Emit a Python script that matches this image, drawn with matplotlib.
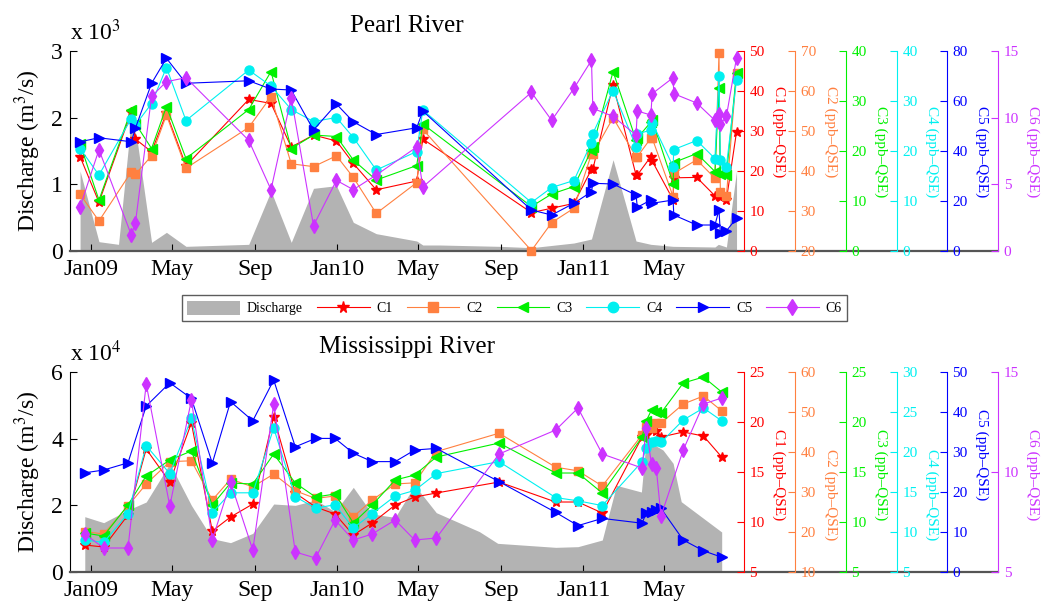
import numpy as np
import pandas as pd
import matplotlib
matplotlib.use("Agg")
import matplotlib.pyplot as plt
from matplotlib.patches import Patch
from matplotlib.lines import Line2D

plt.rcParams["font.family"] = ["Liberation Serif", "DejaVu Serif"]
plt.rcParams["mathtext.fontset"] = "stix"

# ---------------- Pearl River ----------------
pearl_dates = ["2008-12-16", "2009-01-13", "2009-03-02", "2009-03-08", "2009-04-01",
               "2009-04-23", "2009-05-22", "2009-08-23", "2009-09-25", "2009-10-25",
               "2009-11-27", "2009-12-31", "2010-01-25", "2010-02-28", "2010-04-29",
               "2010-05-08", "2010-10-16", "2010-11-15", "2010-12-18", "2011-01-13",
               "2011-01-15", "2011-02-14", "2011-03-20", "2011-03-22", "2011-04-11",
               "2011-04-13", "2011-05-14", "2011-05-15", "2011-06-18", "2011-07-15",
               "2011-07-21", "2011-07-23", "2011-08-01", "2011-08-16"]
pearl_c1 = [23.6, 12.2, 34.8, 28.0, 24.8, 34.5, 21.3, 37.9, 36.9, 26.0, 29.0, 27.5,
            21.9, 15.3, 17.5, 28.0, 9.6, 10.7, 11.9, 20.4, 20.4, 41.6, 19.0, 19.0,
            23.6, 22.5, 12.8, 18.3, 18.4, 13.8, 13.8, 13.6, 12.8, 29.8]
pearl_c2 = [34.2, 27.5, 39.8, 39.2, 43.8, 54.0, 40.7, 50.9, 58.6, 41.8, 41.1, 43.8,
            38.4, 29.4, 37.1, 50.4, 20.1, 27.1, 30.7, 44.3, 44.3, 53.3, 43.6, 43.6,
            48.2, 48.2, 33.6, 39.4, 42.8, 38.2, 69.4, 34.8, 33.8, 64.6]
pearl_c3 = [21.4, 10.2, 28.3, 25.5, 20.5, 28.9, 18.5, 28.3, 35.9, 20.5, 23.2, 22.9,
            18.2, 14.2, 17.1, 25.4, 8.9, 11.4, 12.9, 20.2, 20.9, 35.9, 22.2, 22.6,
            25.8, 26.2, 13.5, 17.7, 19.5, 15.9, 32.7, 15.5, 15.2, 35.7]
pearl_c4 = [20.5, 15.2, 26.5, 25.2, 29.5, 36.7, 26.1, 36.2, 33.0, 28.3, 25.9, 26.7,
            22.7, 16.2, 19.9, 28.2, 9.7, 12.7, 14.1, 21.7, 23.5, 32.1, 20.9, 23.4,
            24.2, 25.7, 16.9, 20.3, 22.1, 18.5, 35.0, 18.2, 16.9, 34.3]
pearl_c5 = [43.7, 45.3, 43.7, 49.1, 67.1, 77.1, 67.1, 68.1, 64.8, 64.4, 48.4, 58.8,
            51.7, 46.6, 49.3, 56.0, 16.4, 14.4, 19.1, 23.7, 27.1, 26.8, 22.4, 17.5,
            20.4, 19.1, 20.4, 14.4, 10.4, 10.4, 16.4, 7.1, 8.1, 13.1]
pearl_c6 = [3.3, 7.6, 1.2, 2.1, 11.6, 12.7, 13.0, 8.3, 4.6, 11.5, 1.9, 5.3,
            4.6, 5.7, 7.8, 4.8, 11.9, 9.8, 12.2, 14.3, 10.7, 10.1, 8.7, 10.5,
            10.2, 11.8, 13.0, 11.8, 11.1, 9.8, 10.3, 9.5, 10.1, 14.5]
pearl_q_dates = ["2008-12-16", "2009-01-13", "2009-02-11", "2009-03-02", "2009-03-10",
                 "2009-04-01", "2009-04-23", "2009-05-22", "2009-08-23", "2009-09-25",
                 "2009-10-25", "2009-11-27", "2009-12-31", "2010-01-25", "2010-02-28",
                 "2010-04-29", "2010-05-08", "2010-06-02", "2010-08-30", "2010-10-16",
                 "2010-12-18", "2011-01-13", "2011-02-14", "2011-03-20", "2011-04-11",
                 "2011-05-14", "2011-07-15", "2011-07-20", "2011-08-01", "2011-08-16"]
pearl_q = [1200, 140, 100, 2000, 1700, 130, 280, 70, 100, 900, 130, 940, 980, 430, 260,
           150, 90, 90, 70, 50, 120, 180, 1370, 150, 100, 70, 60, 100, 60, 1200]

# ---------------- Mississippi River ----------------
miss_dates = ["2008-12-23", "2009-01-20", "2009-02-25", "2009-03-24", "2009-04-28",
              "2009-05-30", "2009-06-30", "2009-07-27", "2009-08-29", "2009-09-29",
              "2009-10-31", "2009-11-30", "2009-12-29", "2010-01-25", "2010-02-22",
              "2010-03-28", "2010-04-26", "2010-05-28", "2010-08-29", "2010-11-21",
              "2010-12-24", "2011-01-29", "2011-03-29", "2011-04-04", "2011-04-12",
              "2011-04-19", "2011-04-26", "2011-05-29", "2011-06-28", "2011-07-25"]
miss_c1 = [7.7, 7.5, 10.7, 17.3, 14.0, 19.9, 9.1, 10.5, 11.8, 20.5, 12.9, 11.5, 10.8,
           8.7, 9.9, 11.7, 12.5, 12.9, 14.0, 12.0, 12.0, 10.9, 18.5, 18.7, 19.2, 19.1,
           18.5, 19.0, 18.6, 16.5]
miss_c2 = [20.1, 19.5, 26.5, 32.0, 37.6, 37.8, 28.0, 33.2, 31.3, 34.5, 30.3, 28.4, 29.0,
           23.8, 28.0, 32.0, 32.3, 40.1, 44.7, 36.2, 35.3, 31.5, 44.3, 46.3, 45.9, 47.2,
           47.2, 52.0, 54.0, 50.3]
miss_c3 = [8.9, 8.6, 11.7, 14.6, 16.2, 17.1, 11.7, 13.9, 13.8, 16.8, 13.9, 12.5, 12.8,
           9.9, 11.7, 14.2, 14.7, 16.5, 17.9, 14.9, 14.9, 12.9, 18.5, 20.1, 21.2, 21.0,
           20.9, 23.9, 24.5, 23.0]
miss_c4 = [9.0, 8.7, 12.3, 20.8, 17.3, 24.2, 12.4, 14.9, 14.9, 23.0, 14.4, 13.0, 13.4,
           10.5, 12.3, 14.5, 15.2, 17.3, 18.8, 14.3, 13.9, 13.3, 18.8, 20.5, 21.3, 21.4,
           21.2, 24.0, 25.5, 23.9]
miss_c5 = [24.8, 25.5, 27.3, 41.5, 47.3, 43.4, 27.2, 42.6, 37.8, 48.0, 31.3, 33.4, 33.4,
           29.7, 27.6, 27.6, 30.5, 30.9, 22.6, 14.9, 11.6, 13.4, 12.2, 14.7, 15.1, 15.5,
           15.9, 8.0, 5.3, 3.7]
miss_c6 = [6.9, 6.2, 6.2, 14.4, 8.3, 13.6, 6.6, 9.5, 6.1, 13.4, 6.0, 5.7, 7.6,
           6.6, 6.9, 7.6, 6.6, 6.7, 10.9, 12.1, 13.2, 10.9, 10.2, 12.2, 10.4, 10.2,
           7.8, 11.1, 13.4, 13.7]
miss_q_dates = ["2008-12-23", "2009-01-20", "2009-02-25", "2009-03-24", "2009-04-28",
                "2009-05-30", "2009-06-30", "2009-07-27", "2009-08-29", "2009-09-29",
                "2009-10-31", "2009-11-30", "2009-12-29", "2010-01-25", "2010-02-22",
                "2010-03-28", "2010-04-26", "2010-05-28", "2010-07-31", "2010-08-27",
                "2010-11-21", "2010-12-24", "2011-01-29", "2011-02-19", "2011-03-28",
                "2011-04-04", "2011-04-29", "2011-05-14", "2011-05-26", "2011-07-25"]
miss_q = [16600, 14800, 18600, 21000, 32500, 20000, 10000, 8800, 11600, 20400, 20000,
          21600, 18100, 25400, 17400, 16400, 26000, 17800, 12100, 8600, 7400, 7600,
          9600, 26000, 24000, 39600, 36600, 32600, 21100, 12000]

tick_dates = ["2009-01-01", "2009-05-01", "2009-09-01", "2010-01-01",
              "2010-05-01", "2010-09-01", "2011-01-01", "2011-05-01"]
tick_labels = ["Jan09", "May", "Sep", "Jan10", "May", "Sep", "Jan11", "May"]

names = ["C1", "C2", "C3", "C4", "C5", "C6"]
colors = ["#ff0000", "#ff8040", "#00f000", "#00f0f0", "#0000ff", "#cc33ff"]
markers = ["*", "s", "<", "o", ">", "d"]
msizes = [7.5, 5.5, 6.5, 6.5, 6.5, 7.5]
gray = "#b3b3b3"

spine_x = [1.0, 1.0757, 1.151, 1.227, 1.301, 1.377]
label_x = [1.052, 1.129, 1.203, 1.279, 1.353, 1.429]


def panel(ax, title, dates, series, q_dates, q, qexp, qmax, qticks,
          lims, steps, label_y):
    dates = pd.to_datetime(dates)
    ax.fill_between(pd.to_datetime(q_dates), 0, np.array(q) / 10 ** qexp,
                    color=gray, lw=0)
    ax.set_ylim(0, qmax)
    ax.set_yticks(qticks)
    ax.set_xlim(pd.Timestamp("2008-12-01"), pd.Timestamp("2011-08-27"))
    ax.set_xticks(pd.to_datetime(tick_dates))
    ax.set_xticklabels(tick_labels)
    ax.tick_params(axis="both", direction="in", length=5, labelsize=17)
    ax.tick_params(axis="x", pad=6)
    ax.tick_params(axis="y", pad=5)
    for s in ["top", "right", "bottom"]:
        ax.spines[s].set_visible(False)
    ax.plot([0, spine_x[-1]], [0, 0], transform=ax.transAxes, color="#555555",
            lw=1.6, clip_on=False, zorder=5)
    ax.set_ylabel("Discharge (m$^3$/s)", fontsize=17)
    ax.yaxis.set_label_coords(-0.04, 0.5)
    ax.set_title(title, fontsize=18, pad=14)
    ax.text(0, 1.03, "x 10$^{%d}$" % qexp, transform=ax.transAxes,
            fontsize=17, ha="left", va="bottom")

    for i, vals in enumerate(series):
        c = colors[i]
        tw = ax.twinx()
        tw.spines["right"].set_position(("axes", spine_x[i]))
        for s in ["left", "top", "bottom"]:
            tw.spines[s].set_visible(False)
        tw.spines["right"].set_color(c)
        tw.plot(dates, vals, color=c, lw=0.8, marker=markers[i], ms=msizes[i],
                mfc=c, mec=c, clip_on=False)
        lo, hi = lims[i]
        tw.set_ylim(lo, hi)
        tw.set_yticks(np.arange(lo, hi + 0.1, steps[i]))
        tw.tick_params(axis="y", direction="in", colors=c, labelsize=11,
                       length=5, pad=4)
        ax.text(label_x[i], label_y[i], names[i] + " (ppb\u2013QSE)",
                transform=ax.transAxes, rotation=270, color=c, fontsize=11,
                ha="center", va="center")


fig = plt.figure(figsize=(10.44, 6.06), dpi=100)
ax1 = fig.add_axes([0.067, 0.5858, 0.6456, 0.330])
ax2 = fig.add_axes([0.067, 0.0561, 0.6456, 0.330])

panel(ax1, "Pearl River", pearl_dates,
      [pearl_c1, pearl_c2, pearl_c3, pearl_c4, pearl_c5, pearl_c6],
      pearl_q_dates, pearl_q, 3, 3, [0, 1, 2, 3],
      [(0, 50), (20, 70), (0, 40), (0, 40), (0, 80), (0, 15)],
      [10, 10, 10, 10, 20, 5],
      [0.595, 0.595, 0.495, 0.495, 0.495, 0.495])

panel(ax2, "Mississippi River", miss_dates,
      [miss_c1, miss_c2, miss_c3, miss_c4, miss_c5, miss_c6],
      miss_q_dates, miss_q, 4, 6, [0, 2, 4, 6],
      [(5, 25), (10, 60), (5, 25), (5, 30), (0, 50), (5, 15)],
      [5, 10, 5, 5, 10, 5],
      [0.485, 0.385, 0.485, 0.385, 0.585, 0.485])

handles = [Patch(facecolor=gray, edgecolor="none")]
for i in range(6):
    handles.append(Line2D([], [], color=colors[i], lw=0.8, marker=markers[i],
                          ms=msizes[i] + 1, mfc=colors[i], mec=colors[i]))
fig.legend(handles, ["Discharge"] + names, loc="center",
           bbox_to_anchor=(514.5 / 1044, 1 - 308 / 606), ncol=7,
           fontsize=10, frameon=True, fancybox=False, edgecolor="#333333",
           handlelength=3.8, handleheight=1.2, columnspacing=1.0,
           handletextpad=0.5, borderpad=0.4, borderaxespad=0)

fig.savefig("out.png", dpi=100)
